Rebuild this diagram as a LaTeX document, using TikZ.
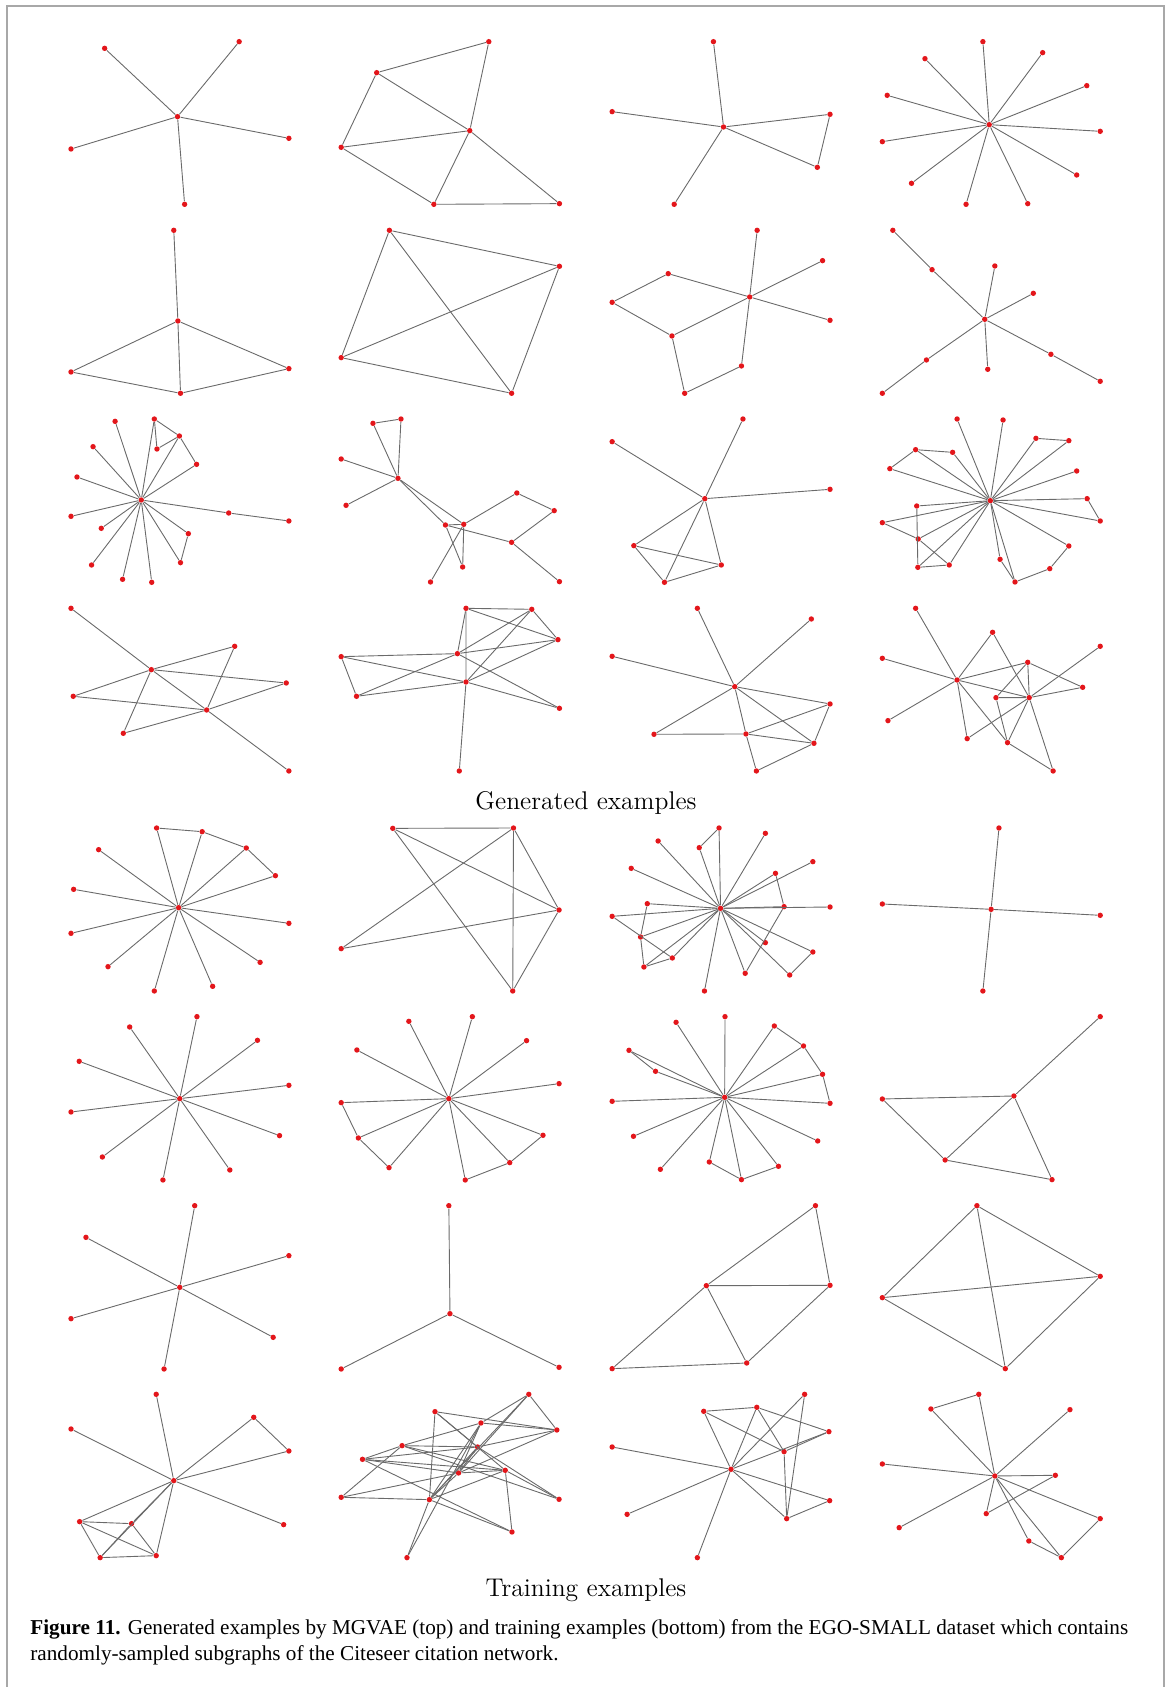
\documentclass[tikz,border=0pt]{standalone}
\usepackage{fontspec}
\usepackage{xcolor}
\usepackage{tikz}
\newfontfamily\capfont{Liberation Serif}
\definecolor{dotred}{HTML}{E3161B}
\definecolor{linkgray}{HTML}{6A6A6A}
\definecolor{framegray}{HTML}{A8A8A8}
\tikzset{
  vert/.style={circle, fill=dotred, inner sep=0pt, minimum size=2.7pt},
  conn/.style={draw=linkgray, line width=0.45pt},
  panel/.style={xscale=0.3737, yscale=0.3333},
  capline/.style={anchor=base west, inner sep=0pt, font=\capfont\fontsize{10.6}{13}\selectfont}
}

\begin{document}
\begin{tikzpicture}[x=0.5pt, y=-0.5pt]
  \useasboundingbox (0,0) rectangle (1172,1687);
  \draw[framegray, line width=0.9pt] (7,1690) -- (7,6) -- (1164,6) -- (1164,1690);

  % rows 1-2, left half
  \begin{scope}[shift={(0,20)}, panel]
    \foreach \n/\x/\y in {c/475/290,a/280/85,b/640/65,d/190/387,e/773/355,f/494/553}
      \node[vert] (g11-\n) at (\x,\y) {};
    \foreach \u/\v in {c/a,c/b,c/d,c/e,c/f}
      \draw[conn] (g11-\u) -- (g11-\v);
    \foreach \n/\x/\y in {1/1308/65,2/1008/158,3/1257/332,4/913/382,5/1161/553,6/1497/551}
      \node[vert] (g12-\n) at (\x,\y) {};
    \foreach \u/\v in {2/1,1/3,2/3,2/4,4/3,4/5,3/5,3/6,5/6}
      \draw[conn] (g12-\u) -- (g12-\v);
    \foreach \n/\x/\y in {t/465/631,c/476/903,l/190/1056,r/773/1046,b/483/1120}
      \node[vert] (g21-\n) at (\x,\y) {};
    \foreach \u/\v in {t/c,c/l,c/r,c/b,l/b,b/r}
      \draw[conn] (g21-\u) -- (g21-\v);
    \foreach \n/\x/\y in {a/1042/631,b/1497/739,c/913/1013,d/1369/1120}
      \node[vert] (g22-\n) at (\x,\y) {};
    \foreach \u/\v in {a/b,a/c,a/d,b/c,b/d,c/d}
      \draw[conn] (g22-\u) -- (g22-\v);
  \end{scope}

  % rows 1-2, right half
  \begin{scope}[shift={(586,20)}, panel]
    \foreach \n/\x/\y in {c/368/321,a/341/65,b/70/275,d/653/283,e/619/442,f/236/553}
      \node[vert] (g13-\n) at (\x,\y) {};
    \foreach \u/\v in {c/a,c/b,c/d,c/e,d/e,c/f}
      \draw[conn] (g13-\u) -- (g13-\v);
    \foreach \n/\x/\y in {c/1079/314,1/1062/65,2/907/116,3/1222/98,4/806/226,5/1340/197,6/793/365,7/1376/334,8/871/490,9/1313/465,10/1017/553,11/1182/551}
      \node[vert] (g14-\n) at (\x,\y) {};
    \foreach \v in {1,...,11}
      \draw[conn] (g14-c) -- (g14-\v);
    \foreach \n/\x/\y in {h/438/831,t/458/631,a/220/761,l/70/847,p/633/722,q/653/901,m/230/948,n/416/1038,b/264/1120}
      \node[vert] (g23-\n) at (\x,\y) {};
    \foreach \u/\v in {h/t,h/n,h/a,h/q,h/m,h/p,l/a,l/m,m/b,b/n}
      \draw[conn] (g23-\u) -- (g23-\v);
    \foreach \n/\x/\y in {c/1067/898,1/821/631,2/926/749,t/1094/738,r/1197/820,3/793/1120,4/911/1020,b/1075/1048,5/1244/1003,6/1376/1084}
      \node[vert] (g24-\n) at (\x,\y) {};
    \foreach \u/\v in {1/2,2/c,c/t,c/r,c/4,4/3,c/b,c/5,5/6}
      \draw[conn] (g24-\u) -- (g24-\v);
  \end{scope}

  % rows 3-4, left half
  \begin{scope}[shift={(0,400)}, panel]
    \foreach \n/\x/\y in {c/378/300,1/308/64,2/413/57,3/480/108,4/420/147,5/526/193,6/249/140,7/206/231,8/190/349,9/271/385,10/245/495,11/328/538,12/406/547,13/483/488,14/504/401,15/612/339,16/773/363}
      \node[vert] (g31-\n) at (\x,\y) {};
    \foreach \u/\v in {c/1,c/2,c/3,c/5,2/4,4/3,2/3,3/5,c/6,c/7,c/8,c/9,c/10,c/11,c/12,c/13,13/14,c/14,c/15,15/16}
      \draw[conn] (g31-\u) -- (g31-\v);
    \foreach \n/\x/\y in {a/998/70,b/1073/57,h/1065/235,1/913/177,2/926/316,m/1192/375,n/1241/373,o/1238/501,p/1383/279,q/1483/332,r/1369/427,s/1152/546,u/1497/545}
      \node[vert] (g32-\n) at (\x,\y) {};
    \foreach \u/\v in {a/b,a/h,b/h,1/h,2/h,h/m,h/n,m/n,m/r,n/p,p/q,q/r,r/u,n/o,m/o,n/s}
      \draw[conn] (g32-\u) -- (g32-\v);
    \foreach \n/\x/\y in {1/190/625,a/405/809,b/553/930,t/628/739,l/196/889,r/766/849,2/330/1000,3/773/1113}
      \node[vert] (g41-\n) at (\x,\y) {};
    \foreach \u/\v in {1/a,a/b,b/3,a/t,l/a,a/r,l/b,a/2,2/b,t/b,b/r}
      \draw[conn] (g41-\u) -- (g41-\v);
    \foreach \n/\x/\y in {1/1247/625,2/1423/628,3/1493/719,m/1224/761,n/1247/846,4/913/770,5/954/889,6/1497/925,b/1229/1113}
      \node[vert] (g42-\n) at (\x,\y) {};
    \foreach \u/\v in {1/2,1/3,2/3,1/n,1/m,2/m,2/n,m/3,n/3,4/m,4/5,4/n,m/6,n/6,5/m,5/n,n/b}
      \draw[conn] (g42-\u) -- (g42-\v);
  \end{scope}

  % rows 3-4, right half
  \begin{scope}[shift={(586,400)}, panel]
    \foreach \n/\x/\y in {h/318/296,1/70/125,2/420/57,3/653/268,a/128/437,b/362/495,d/210/547}
      \node[vert] (g33-\n) at (\x,\y) {};
    \foreach \u/\v in {h/1,h/2,h/3,h/a,h/d,h/b,a/b,a/d,d/b}
      \draw[conn] (g33-\u) -- (g33-\v);
    \foreach \n/\x/\y in {c/1082/302,t1/993/57,t2/1116/60,p1/1204/115,p2/1292/122,q1/882/149,q2/981/157,q3/813/206,r1/1313/213,r2/1341/296,r3/1376/363,s1/885/318,s2/793/368,s3/889/417,s4/888/502,s5/972/495,u1/1108/478,u2/1148/546,u3/1241/506,u4/1292/438}
      \node[vert] (g34-\n) at (\x,\y) {};
    \foreach \u/\v in {c/t1,c/t2,c/p1,p1/p2,c/p2,c/q1,c/q2,q1/q2,q1/q3,c/q3,c/r1,c/r2,r2/r3,c/r3,c/s1,s1/s4,c/s2,s2/s3,c/s3,s3/s5,s4/s5,c/s4,c/s5,c/u1,u1/u2,c/u2,u2/u3,c/u4,u4/u3}
      \draw[conn] (g34-\u) -- (g34-\v);
    \foreach \n/\x/\y in {h/398/860,t/298/625,1/603/657,l/70/769,r/653/912,2/182/1003,m/428/1002,3/610/1030,b/456/1113}
      \node[vert] (g43-\n) at (\x,\y) {};
    \foreach \u/\v in {h/t,h/1,h/l,h/r,h/2,h/m,m/b,h/3,m/r,m/3,r/3,3/b,2/m}
      \draw[conn] (g43-\u) -- (g43-\v);
    \foreach \n/\x/\y in {h/993/840,t/882/625,1/1088/697,l/793/775,2/808/962,a/1182/787,3/1376/739,r/1329/862,m/1097/893,n/1186/893,4/1020/1016,5/1128/1028,6/1250/1113}
      \node[vert] (g44-\n) at (\x,\y) {};
    \foreach \u/\v in {h/t,h/l,h/2,h/1,1/n,h/a,a/m,a/n,a/r,n/r,n/3,h/n,m/n,m/5,h/5,h/4,4/n,n/5,5/6,n/6}
      \draw[conn] (g44-\u) -- (g44-\v);
  \end{scope}

  \node[font=\fontsize{12.8}{15}\selectfont] (gentitle) at (586,803) {Generated examples};

  % rows 5-6, left half
  \begin{scope}[shift={(0,810)}, panel]
    \foreach \n/\x/\y in {c/478/293,a1/419/54,a2/541/65,a3/659/114,a4/737/197,1/264/119,2/197/238,3/190/370,4/289/470,5/413/543,6/569/529,7/773/340,8/696/457}
      \node[vert] (g51-\n) at (\x,\y) {};
    \foreach \v in {a1,a2,a3,a4,1,2,3,4,5,6,7,8}
      \draw[conn] (g51-c) -- (g51-\v);
    \foreach \u/\v in {a1/a2,a2/a3,a3/a4}
      \draw[conn] (g51-\u) -- (g51-\v);
    \foreach \n/\x/\y in {a/1051/55,b/1374/54,r/1496/300,l/913/416,d/1372/543}
      \node[vert] (g52-\n) at (\x,\y) {};
    \foreach \u/\v in {a/b,a/r,a/d,b/l,b/r,b/d,l/r,r/d}
      \draw[conn] (g52-\u) -- (g52-\v);
    \foreach \n/\x/\y in {c/481/866,1/527/620,2/347/651,3/689/691,4/212/754,5/773/826,6/190/906,7/748/977,8/274/1041,9/615/1080,10/436/1110}
      \node[vert] (g61-\n) at (\x,\y) {};
    \foreach \v in {1,...,10}
      \draw[conn] (g61-c) -- (g61-\v);
    \foreach \n/\x/\y in {c/1201/866,1/1094/634,2/1264/620,3/1409/692,4/955/720,5/1496/821,l/913/878,m/959/984,n/1041/1073,b/1245/1110,p/1364/1058,q/1453/976}
      \node[vert] (g62-\n) at (\x,\y) {};
    \foreach \v in {1,2,3,4,5,l,m,n,b,p,q}
      \draw[conn] (g62-c) -- (g62-\v);
    \foreach \u/\v in {l/m,m/n,b/p,p/q}
      \draw[conn] (g62-\u) -- (g62-\v);
  \end{scope}

  % rows 5-6, right half
  \begin{scope}[shift={(586,810)}, panel]
    \foreach \n/\x/\y in {c/360/295,a/356/54,a2/303/113,b/193/93,d/480/70,e/121/175,f/607/155,g/507/190,h/530/290,i/653/291,k/164/281,l/70/319,m/146/381,n/231/444,o/155/471,p/480/398,q/607/426,r/545/495,s/426/490,u/317/543}
      \node[vert] (g53-\n) at (\x,\y) {};
    \foreach \u/\v in {c/a,a/a2,a2/c,c/b,c/d,c/e,c/f,c/g,g/h,c/h,c/i,h/s,c/k,k/m,c/l,l/n,c/m,m/o,o/n,c/n,c/o,c/p,c/q,q/r,c/r,c/s,c/u}
      \draw[conn] (g53-\u) -- (g53-\v);
    \foreach \n/\x/\y in {c/1084/298,t/1105/54,l/793/282,r/1376/316,b/1062/543}
      \node[vert] (g54-\n) at (\x,\y) {};
    \foreach \v in {t,l,r,b}
      \draw[conn] (g54-c) -- (g54-\v);
    \foreach \n/\x/\y in {c/371/862,t/372/620,1/241/637,a1/504/648,a2/582/708,a3/633/793,a4/653/880,l1/115/721,l2/186/784,l/70/874,2/127/979,3/199/1078,b1/330/1056,b2/416/1109,b3/515/1069,4/620/993}
      \node[vert] (g63-\n) at (\x,\y) {};
    \foreach \v in {t,1,a1,a2,a3,a4,l1,l2,l,2,3,b1,b2,b3,4}
      \draw[conn] (g63-c) -- (g63-\v);
    \foreach \u/\v in {a1/a2,a2/a3,a3/a4,l1/l2,b1/b2,b2/b3}
      \draw[conn] (g63-\u) -- (g63-\v);
    \foreach \n/\x/\y in {t/1376/620,h/1145/858,l/793/867,m/961/1050,b/1247/1109}
      \node[vert] (g64-\n) at (\x,\y) {};
    \foreach \u/\v in {t/h,l/h,l/m,h/m,h/b,m/b}
      \draw[conn] (g64-\u) -- (g64-\v);
  \end{scope}

  % rows 7-8, left half
  \begin{scope}[shift={(0,1190)}, panel]
    \foreach \n/\x/\y in {c/481/292,1/521/47,2/230/142,3/773/197,4/190/386,5/731/442,6/439/537}
      \node[vert] (g71-\n) at (\x,\y) {};
    \foreach \v in {1,...,6}
      \draw[conn] (g71-c) -- (g71-\v);
    \foreach \n/\x/\y in {c/1204/371,t/1201/47,l/913/537,r/1496/532}
      \node[vert] (g72-\n) at (\x,\y) {};
    \foreach \v in {t,l,r}
      \draw[conn] (g72-c) -- (g72-\v);
    \foreach \n/\x/\y in {c/465/872,t/418/613,1/190/717,2/679/682,r/773/783,3/759/1004,a/213/995,b/352/1001,d/268/1103,e/418/1097}
      \node[vert] (g81-\n) at (\x,\y) {};
    \foreach \u/\v in {c/t,c/1,c/2,2/r,c/r,c/3,c/a,c/b,b/d,c/d,c/e,a/b,a/d,a/e,b/e,d/e}
      \draw[conn] (g81-\u) -- (g81-\v);
    \foreach \n/\x/\y in {A/1415/613,B/1164/665,C/1287/699,D/1490/720,E/1076/767,F/1278/771,G/970/808,H/1227/849,I/1352/841,J/913/922,K/1149/929,L/1496/928,M/1370/1026,N/1089/1103}
      \node[vert] (g82-\n) at (\x,\y) {};
    \foreach \u/\v in {B/D,B/F,B/I,B/K,C/A,C/D,C/E,C/H,C/K,A/D,A/H,A/K,E/F,E/G,E/J,E/I,E/L,F/G,F/D,F/H,F/L,F/K,G/H,G/I,G/M,H/I,H/J,H/D,H/K,I/M,I/L,I/K,J/K,K/M,K/N,C/N}
      \draw[conn] (g82-\u) -- (g82-\v);
  \end{scope}

  % rows 7-8, right half
  \begin{scope}[shift={(586,1190)}, panel]
    \foreach \n/\x/\y in {t/614/47,a/322/287,r/653/286,l/70/536,b/430/519}
      \node[vert] (g73-\n) at (\x,\y) {};
    \foreach \u/\v in {t/a,t/r,a/r,a/l,a/b,l/b,b/r}
      \draw[conn] (g73-\u) -- (g73-\v);
    \foreach \n/\x/\y in {t/1046/47,r/1376/259,l/793/323,b/1122/536}
      \node[vert] (g74-\n) at (\x,\y) {};
    \foreach \u/\v in {t/r,t/l,t/b,l/r,l/b,r/b}
      \draw[conn] (g74-\u) -- (g74-\v);
    \foreach \n/\x/\y in {1/315/664,t/457/652,2/585/613,r/650/725,m/530/785,h/388/838,l/70/771,3/110/973,q/652/932,b/537/986,4/298/1103}
      \node[vert] (g83-\n) at (\x,\y) {};
    \foreach \u/\v in {1/t,1/h,1/m,t/h,t/m,t/r,2/h,2/b,h/r,m/r,h/l,h/3,h/4,h/q,h/b,m/b,b/q}
      \draw[conn] (g83-\u) -- (g83-\v);
    \foreach \n/\x/\y in {c/1094/858,1/923/657,2/1051/613,t/1295/659,l/793/822,r/1256/856,3/838/1013,m/1071/971,4/1376/986,b1/1185/1053,b2/1272/1103}
      \node[vert] (g84-\n) at (\x,\y) {};
    \foreach \u/\v in {1/2,1/c,2/c,c/t,c/l,c/r,r/m,c/m,c/3,c/4,4/b2,c/b1,b1/b2,c/b2}
      \draw[conn] (g84-\u) -- (g84-\v);
  \end{scope}

  \node[font=\fontsize{12.8}{15}\selectfont] (traintitle) at (586,1590) {Training examples};

  \node[capline] (cap1) at (30,1634)
    {\textbf{Figure 11.} Generated examples by MGVAE (top) and training examples (bottom) from the EGO-SMALL dataset which contains};
  \node[capline] (cap2) at (30,1660)
    {randomly-sampled subgraphs of the Citeseer citation network.};
\end{tikzpicture}
\end{document}
